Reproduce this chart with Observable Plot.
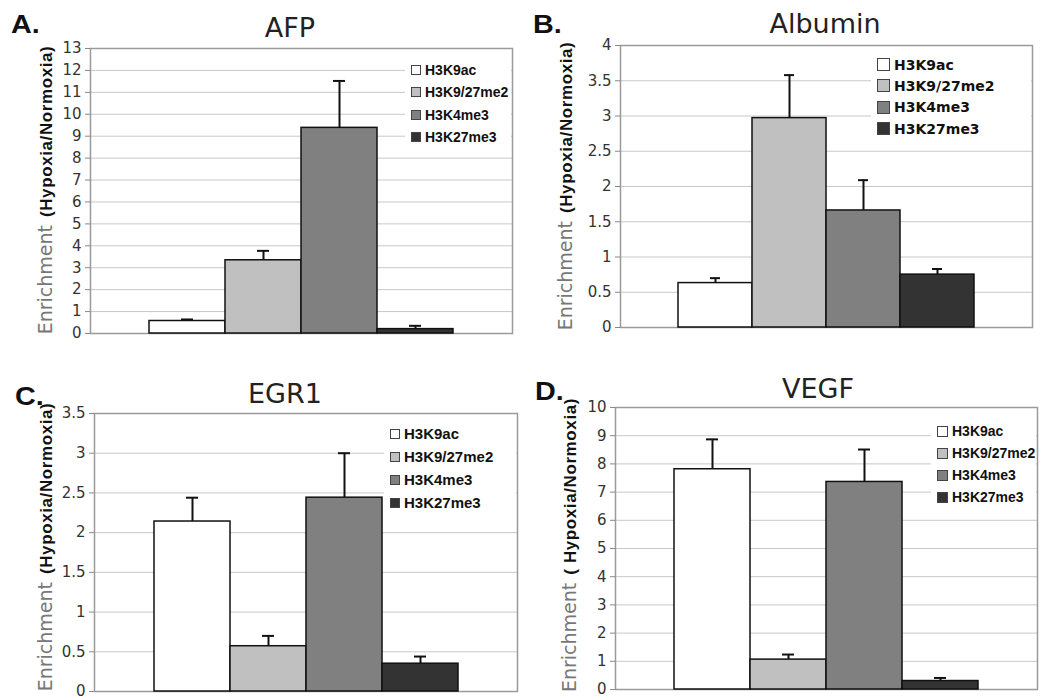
<!DOCTYPE html>
<html>
<head>
<meta charset="utf-8">
<script src="https://cdn.jsdelivr.net/npm/d3@7"></script>
<script src="https://cdn.jsdelivr.net/npm/@observablehq/plot@0.6"></script>
<style>
  html, body { margin: 0; padding: 0; background: #fff; }
  #root { position: relative; width: 1040px; height: 700px; background: #fff; overflow: hidden; }
  .panel { position: absolute; width: 520px; height: 350px; }
  .panel svg { position: absolute; left: 0; top: 0; overflow: visible; }
  .letter { position: absolute; font: bold 25px "Liberation Sans", Arial, sans-serif; line-height: 25px; color: #111; transform: scaleX(1.15); transform-origin: left top; }
  .title { position: absolute; font: 27px "DejaVu Sans", sans-serif; line-height: 27px; color: #222; transform: translateX(-50%); white-space: nowrap; }
  .ylabel { position: absolute; transform: translate(-50%, -50%) rotate(-90deg); white-space: nowrap; }
  .ylabel .enr { font: 19px "DejaVu Sans", sans-serif; color: #777; }
  .ylabel .hn { font: bold 17px "Liberation Sans", Arial, sans-serif; color: #111; letter-spacing: 0.6px; }
  .legend { position: absolute; background: #fff; }
  .legend .row { display: flex; align-items: center; white-space: nowrap; }
  .legend .sw { display: inline-block; box-sizing: border-box; border: 1px solid #444; margin-right: 4px; }
  .legend .lt { font-weight: bold; color: #111; }
</style>
</head>
<body>
<div id="root"></div>
<script>
// ---- data ----
const series = ["H3K9ac", "H3K9/27me2", "H3K4me3", "H3K27me3"];
const seriesColors = ["#ffffff", "#c0c0c0", "#808080", "#333333"];

const genes = ["AFP", "Albumin", "EGR1", "VEGF"];
const panelLetters = ["A.", "B.", "C.", "D."];

const afpValues = [0.57, 3.34, 9.38, 0.20];
const afpErrors = [0.07, 0.43, 2.14, 0.15];
const afpTicks = [0, 1, 2, 3, 4, 5, 6, 7, 8, 9, 10, 11, 12, 13];

const albuminValues = [0.63, 2.97, 1.66, 0.75];
const albuminErrors = [0.07, 0.61, 0.43, 0.08];
const albuminTicks = [0, 0.5, 1, 1.5, 2, 2.5, 3, 3.5, 4];

const egr1Values = [2.14, 0.57, 2.44, 0.35];
const egr1Errors = [0.30, 0.13, 0.56, 0.09];
const egr1Ticks = [0, 0.5, 1, 1.5, 2, 2.5, 3, 3.5];

const vegfValues = [7.81, 1.06, 7.36, 0.30];
const vegfErrors = [1.06, 0.18, 1.15, 0.11];
const vegfTicks = [0, 1, 2, 3, 4, 5, 6, 7, 8, 9, 10];

const yLabelMain = "Enrichment";
const yLabelSub = ["(Hypoxia/Normoxia)", "(Hypoxia/Normoxia)", "(Hypoxia/Normoxia)", "( Hypoxia/Normoxia)"];

// ---- layout (positions / styles) ----
const panels = [
  { values: afpValues, errors: afpErrors, ticks: afpTicks,
    left: 0, top: 0, m: { l: 90, r: 8, t: 48, b: 17 },
    letter: { x: 11, y: 12 }, title: { cx: 290, y: 14 }, ylab: { cx: 45, cy: 190 },
    legend: { x: 405, y: 59, w: 106, rowH: 22.3, sw: 10, fs: 14, family: '"Liberation Sans", Arial, sans-serif' } },
  { values: albuminValues, errors: albuminErrors, ticks: albuminTicks,
    left: 520, top: 0, m: { l: 100, r: 8, t: 45, b: 23 },
    letter: { x: 13, y: 12 }, title: { cx: 305, y: 10 }, ylab: { cx: 45, cy: 186 },
    legend: { x: 351, y: 54, w: 160, rowH: 21.3, sw: 13, fs: 14, family: '"DejaVu Sans", sans-serif' } },
  { values: egr1Values, errors: egr1Errors, ticks: egr1Ticks,
    left: 0, top: 350, m: { l: 94, r: 3, t: 63, b: 9 },
    letter: { x: 15, y: 34 }, title: { cx: 285, y: 30 }, ylab: { cx: 45, cy: 197 },
    legend: { x: 384, y: 72, w: 132, rowH: 23, sw: 10, fs: 15, family: '"Liberation Sans", Arial, sans-serif' } },
  { values: vegfValues, errors: vegfErrors, ticks: vegfTicks,
    left: 520, top: 350, m: { l: 95, r: 3, t: 57, b: 11 },
    letter: { x: 15, y: 29 }, title: { cx: 298, y: 25 }, ylab: { cx: 49, cy: 195 },
    legend: { x: 411, y: 70, w: 105, rowH: 22, sw: 11, fs: 14, family: '"Liberation Sans", Arial, sans-serif' } }
];

const root = document.getElementById("root");
const fmt = d3.format("~g");

panels.forEach((p, i) => {
  const rows = series.map((s, j) => ({
    series: s,
    value: p.values[j],
    hi: p.values[j] + p.errors[j]
  }));
  const ymax = p.ticks[p.ticks.length - 1];

  const chart = Plot.plot({
    width: 520,
    height: 350,
    marginLeft: p.m.l,
    marginRight: p.m.r,
    marginTop: p.m.t,
    marginBottom: p.m.b,
    style: { background: "transparent", fontFamily: '"DejaVu Sans", sans-serif', fontSize: "15px", color: "#333", overflow: "visible" },
    x: { domain: series, paddingInner: 0, paddingOuter: 0.75, axis: null },
    y: { domain: [0, ymax], axis: null },
    color: { domain: series, range: seriesColors },
    marks: [
      Plot.gridY(p.ticks, { stroke: "#c8c8c8", strokeOpacity: 1, strokeWidth: 1 }),
      Plot.frame({ stroke: "#9a9a9a", strokeWidth: 1.5 }),
      Plot.ruleX(rows, { x: "series", y1: "value", y2: "hi", stroke: "#111", strokeWidth: 2 }),
      Plot.tickY(rows, { x: "series", y: "hi", stroke: "#111", strokeWidth: 2, insetLeft: 32, insetRight: 32 }),
      Plot.barY(rows, { x: "series", y: "value", fill: "series", stroke: "#111", strokeWidth: 1.5 }),
      Plot.axisY(p.ticks, { tickSize: 5, tickPadding: 4, stroke: "#888", label: null, fill: "#333", fontSize: 15, tickFormat: fmt }),
      Plot.ruleX([0], { frameAnchor: "left", stroke: "#888", strokeWidth: 2 })
    ]
  });

  const panel = document.createElement("div");
  panel.className = "panel";
  panel.style.left = p.left + "px";
  panel.style.top = p.top + "px";
  panel.appendChild(chart);

  const letter = document.createElement("div");
  letter.className = "letter";
  letter.style.left = p.letter.x + "px";
  letter.style.top = p.letter.y + "px";
  letter.textContent = panelLetters[i];
  panel.appendChild(letter);

  const title = document.createElement("div");
  title.className = "title";
  title.style.left = p.title.cx + "px";
  title.style.top = p.title.y + "px";
  title.textContent = genes[i];
  panel.appendChild(title);

  const ylab = document.createElement("div");
  ylab.className = "ylabel";
  ylab.style.left = p.ylab.cx + "px";
  ylab.style.top = p.ylab.cy + "px";
  const e1 = document.createElement("span");
  e1.className = "enr";
  e1.textContent = yLabelMain;
  const e2 = document.createElement("span");
  e2.className = "hn";
  e2.textContent = yLabelSub[i];
  ylab.appendChild(e1);
  ylab.appendChild(document.createTextNode("\u00a0\u00a0"));
  ylab.appendChild(e2);
  panel.appendChild(ylab);

  const lg = document.createElement("div");
  lg.className = "legend";
  lg.style.left = p.legend.x + "px";
  lg.style.top = p.legend.y + "px";
  lg.style.width = p.legend.w + "px";
  lg.style.paddingLeft = "6px";
  lg.style.boxSizing = "border-box";
  series.forEach((s, j) => {
    const row = document.createElement("div");
    row.className = "row";
    row.style.height = p.legend.rowH + "px";
    const sw = document.createElement("span");
    sw.className = "sw";
    sw.style.width = p.legend.sw + "px";
    sw.style.height = p.legend.sw + "px";
    sw.style.background = seriesColors[j];
    const lt = document.createElement("span");
    lt.className = "lt";
    lt.style.fontSize = p.legend.fs + "px";
    lt.style.fontFamily = p.legend.family;
    lt.textContent = s;
    row.appendChild(sw);
    row.appendChild(lt);
    lg.appendChild(row);
  });
  panel.appendChild(lg);

  root.appendChild(panel);
});
</script>
</body>
</html>
